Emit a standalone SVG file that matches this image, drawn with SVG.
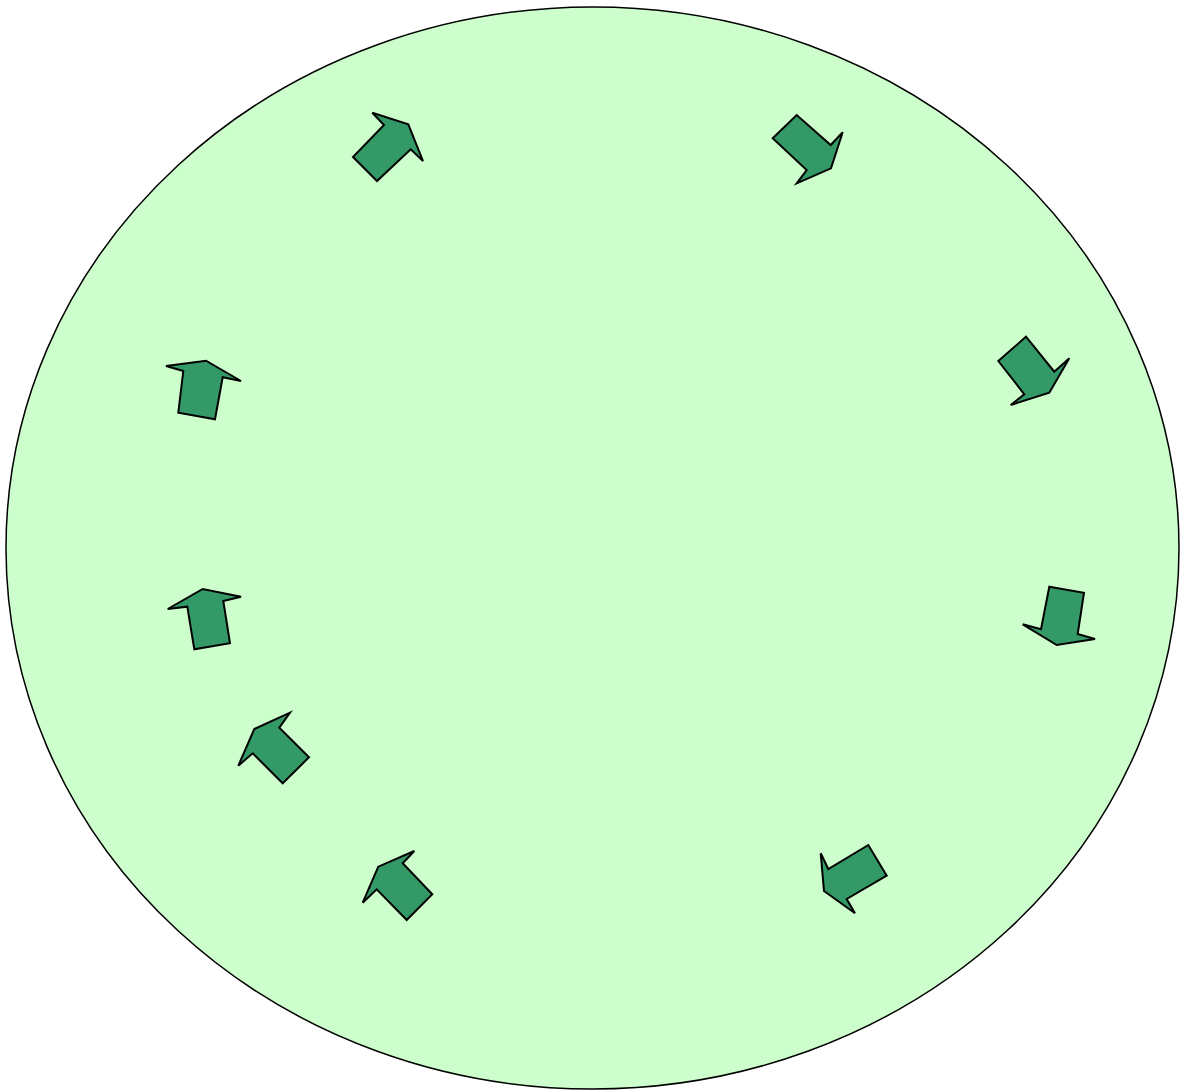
<svg xmlns="http://www.w3.org/2000/svg" width="1180" height="1091" viewBox="0 0 1180 1091">
<style>
.bg{fill:#CCFFCC;stroke:#000;stroke-width:1.5}
.ar{fill:#339966;stroke:#000;stroke-width:2;stroke-linejoin:miter}
</style>
<rect width="1180" height="1091" fill="#fff"/>
<g id="circle"><ellipse class="bg" cx="592.5" cy="548" rx="586.5" ry="541"/></g>
<g id="connectors">
<g id="a1"><polygon class="ar" points="353,157 377,181 410.7,149.3 423,161 408.3,124.3 372.3,112.7 384,125"/></g>
<g id="a2"><polygon class="ar" points="772.7,138.3 796.7,115 830.7,145 842.7,132.3 831,168.3 796.7,183.3 806.7,170"/></g>
<g id="a3"><polygon class="ar" points="166,366 206,360.7 241,381 222.7,377.3 215,419.3 178.3,412.7 183.3,371"/></g>
<g id="a4"><polygon class="ar" points="998.3,361 1026,336.7 1054.3,371.7 1069.3,358.3 1049.3,392.7 1010.7,405 1024.3,394.3"/></g>
<g id="a5"><polygon class="ar" points="167.7,609 202.7,589 241,596.7 223.3,601 230,643.3 194.3,649.3 187.3,606.7"/></g>
<g id="a6"><polygon class="ar" points="1049.3,586.7 1084,592.7 1077.7,634 1095,639 1056.7,645 1022.7,624.3 1041,629.3"/></g>
<g id="a7"><polygon class="ar" points="238.3,765.7 254.3,729 290,712.7 279.3,727.7 309,757.3 282.7,783.3 252.7,753.3"/></g>
<g id="a8"><polygon class="ar" points="362.7,902.7 378.3,866.7 414.3,851 402.7,863.3 432.3,894.3 406.7,920 376.7,889.3"/></g>
<g id="a9"><polygon class="ar" points="820.7,853.3 828.3,869 868.3,845 886.7,875.7 846.7,899 855,913.3 824,891"/></g>
</g>
</svg>
